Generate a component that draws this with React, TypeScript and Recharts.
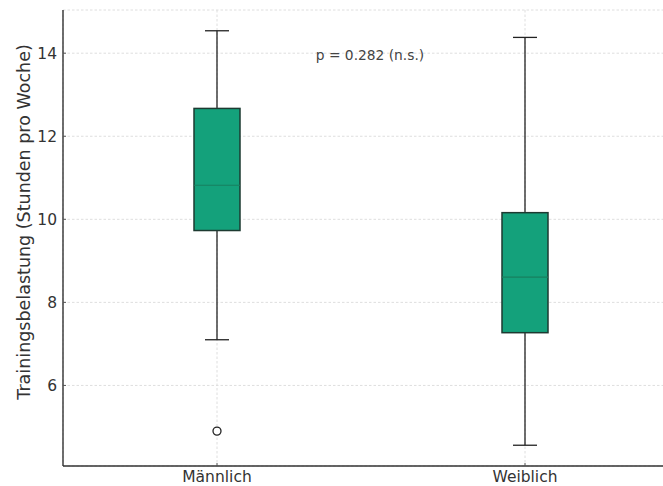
import { Bar, CartesianGrid, ComposedChart, Scatter, XAxis, YAxis } from "recharts";

// Boxplot-Kennwerte je Geschlecht (Stunden pro Woche)
const categories = ["Männlich", "Weiblich"];
const whiskerLow = [7.1, 4.56];
const quartile1 = [9.73, 7.27];
const medians = [10.82, 8.61];
const quartile3 = [12.67, 10.16];
const whiskerHigh = [14.54, 14.38];
const outliers: Array<number | null> = [4.9, null];
const yTicks = [6, 8, 10, 12, 14];
const pText = "p = 0.282 (n.s.)";
const yTitle = "Trainingsbelastung (Stunden pro Woche)";

const data = categories.map((name, i) => ({
  name,
  min: whiskerLow[i],
  q1: quartile1[i],
  median: medians[i],
  q3: quartile3[i],
  max: whiskerHigh[i],
  outlier: outliers[i],
}));

const BOX_FILL = "#14a17b";
const BOX_EDGE = "#1d3a31";
const FONT = "DejaVu Sans, sans-serif";
const TICK_SIZE = 15.5;

function BoxShape(props: any) {
  const { x, y, width, height, payload } = props;
  const top = Math.min(y, y + height);
  const h = Math.abs(height);
  const span = payload.max - payload.min;
  const py = (v: number) => top + (h * (payload.max - v)) / span;
  const cx = x + width / 2;
  const cap = 24;
  return (
    <g>
      <line x1={cx} x2={cx} y1={py(payload.max)} y2={py(payload.q3)} stroke="#222" strokeWidth={1.3} />
      <line x1={cx} x2={cx} y1={py(payload.q1)} y2={py(payload.min)} stroke="#222" strokeWidth={1.3} />
      <line x1={cx - cap / 2} x2={cx + cap / 2} y1={py(payload.max)} y2={py(payload.max)} stroke="#222" strokeWidth={1.3} />
      <line x1={cx - cap / 2} x2={cx + cap / 2} y1={py(payload.min)} y2={py(payload.min)} stroke="#222" strokeWidth={1.3} />
      <rect
        x={x}
        y={py(payload.q3)}
        width={width}
        height={py(payload.q1) - py(payload.q3)}
        fill={BOX_FILL}
        stroke={BOX_EDGE}
        strokeWidth={1.5}
      />
      <line x1={x} x2={x + width} y1={py(payload.median)} y2={py(payload.median)} stroke="#17805f" strokeWidth={1.2} />
    </g>
  );
}

function OutlierDot(props: any) {
  const { cx, cy } = props;
  if (cx == null || cy == null) return null;
  return <circle cx={cx} cy={cy} r={4} fill="#fff" stroke="#222" strokeWidth={1.3} />;
}

// tick label plus a short inward tick mark (matplotlib style)
function YTick(props: any) {
  const { x, y, payload } = props;
  return (
    <g>
      <line x1={x + 6} x2={x + 9} y1={y} y2={y} stroke="#555" strokeWidth={1} />
      <text x={x} y={y} dy="0.36em" textAnchor="end" fill="#333" fontSize={TICK_SIZE} fontFamily={FONT}>
        {payload.value}
      </text>
    </g>
  );
}

function XTick(props: any) {
  const { x, y, payload } = props;
  return (
    <g>
      <line x1={x} x2={x} y1={y - 5} y2={y - 8} stroke="#555" strokeWidth={1} />
      <text x={x} y={y} dy="0.7em" textAnchor="middle" fill="#333" fontSize={TICK_SIZE} fontFamily={FONT}>
        {payload.value}
      </text>
    </g>
  );
}

export default function App() {
  return (
    <div
      style={{
        position: "absolute",
        left: 0,
        top: 0,
        width: 663,
        height: 486,
        overflow: "hidden",
        background: "#fff",
        fontFamily: FONT,
      }}
    >
      <ComposedChart
        width={700}
        height={486}
        data={data}
        margin={{ top: 10, right: 21, bottom: 0, left: 0 }}
      >
        <CartesianGrid stroke="#dedede" strokeDasharray="2.5 2" />
        <XAxis
          dataKey="name"
          type="category"
          height={20}
          tickSize={0}
          tickMargin={5}
          tickLine={false}
          axisLine={{ stroke: "#333", strokeWidth: 1.4 }}
          tick={<XTick />}
          interval={0}
        />
        <YAxis
          type="number"
          domain={[4.06, 15.04]}
          ticks={yTicks}
          allowDataOverflow
          width={63}
          tickSize={0}
          tickMargin={6}
          tickLine={false}
          axisLine={{ stroke: "#333", strokeWidth: 1.4 }}
          tick={<YTick />}
        />
        <Bar
          dataKey={(d: any) => [d.min, d.max]}
          barSize={46}
          shape={<BoxShape />}
          isAnimationActive={false}
        />
        <Scatter dataKey="outlier" shape={<OutlierDot />} isAnimationActive={false} />
      </ComposedChart>
      <svg width={40} height={486} style={{ position: "absolute", left: 0, top: 0 }}>
        <text
          x={0}
          y={0}
          transform="translate(30 222) rotate(-90)"
          textAnchor="middle"
          fill="#333"
          fontSize={17.5}
          fontFamily={FONT}
        >
          {yTitle}
        </text>
      </svg>
      <div
        style={{
          position: "absolute",
          left: 270,
          width: 200,
          top: 47,
          textAlign: "center",
          fontSize: 13.8,
          color: "#444",
          fontFamily: FONT,
          whiteSpace: "nowrap",
        }}
      >
        {pText}
      </div>
    </div>
  );
}
